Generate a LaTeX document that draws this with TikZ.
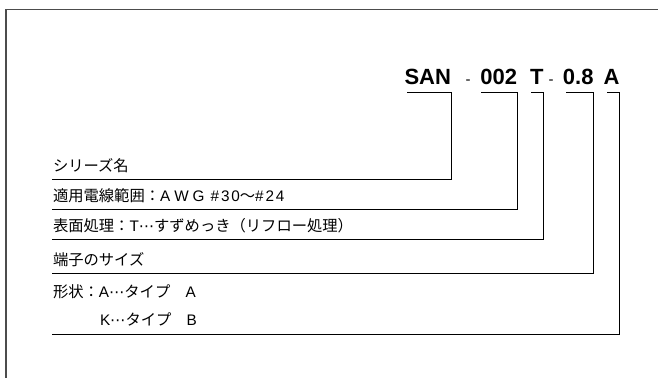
\documentclass[tikz,border=0pt]{standalone}
\usepackage{fontspec}
\newfontfamily\jpfont{Noto Sans CJK JP}
\newfontfamily\partfont{Liberation Sans}
\newfontfamily\latfont[LetterSpace=12]{Liberation Sans}
\newfontfamily\dotfont{DejaVu Sans}
\newcommand{\ltn}[1]{{\latfont #1}}
\newcommand{\mdots}{{\dotfont ⋯}}
\usepackage{tikz}
\usetikzlibrary{positioning}
\tikzset{
% part number and label styles
part/.style={inner sep=0, outer sep=0, anchor=base east,
  font=\partfont\bfseries\fontsize{22}{22}\selectfont},
sep/.style={inner sep=0, outer sep=0, anchor=base,
  font=\partfont\fontsize{15}{15}\selectfont},
lbl/.style={inner sep=0, outer sep=0, anchor=base west,
  font=\jpfont\fontsize{15.3}{15.3}\selectfont},
leader/.style={draw=black, line width=0.9pt},
frame/.style={draw=black!70, line width=1.2pt}
}

\begin{document}
\begin{tikzpicture}[x=1pt, y=-1pt]
  \useasboundingbox (0,0) rectangle (658,378);
  \draw[frame] (658,9.5) -- (6,9.5) -- (6,378);

  \node[part] (SAN) at (451,84) {SAN};
  \node[sep] (dash1) at (468,84) {-};
  \node[part] (num) at (517,84) {002};
  \node[part] (finish) at (543.5,84) {T};
  \node[sep] (dash2) at (551,84) {-};
  \node[part] (size) at (593.5,84) {0.8};
  \node[part] (shape) at (619.5,84) {A};

  \node[lbl] (series) at (53,171) {シリーズ名};
  \node[lbl] (wire) at (53,201) {適用電線範囲：\ltn{A\kern4pt W\kern4pt G \#30}～\ltn{\#24}};
  \node[lbl] (plating) at (53,231) {表面処理：\ltn{T}\mdots すずめっき（リフロー処理）};
  \node[lbl] (tsize) at (53,265) {端子のサイズ};
  \node[lbl] (typeA) at (53,297) {形状：\ltn{A}\mdots タイプ　\ltn{A}};
  \node[lbl] (typeB) at (100,325) {\ltn{K}\mdots タイプ　\ltn{B}};

  \coordinate (l1) at (52,179);
  \coordinate (l2) at (52,209);
  \coordinate (l3) at (52,239);
  \coordinate (l4) at (52,273);
  \coordinate (l5) at (52,334);

  \draw[leader] (l1) -| ([yshift=-8pt]SAN.base east) -- ([yshift=-8pt, xshift=2pt]SAN.base west);
  \draw[leader] (l2) -| ([yshift=-8pt]num.base east) -- ([yshift=-8pt, xshift=1pt]num.base west);
  \draw[leader] (l3) -| ([yshift=-8pt]finish.base east) -- ([yshift=-8pt, xshift=1pt]finish.base west);
  \draw[leader] (l4) -| ([yshift=-8pt]size.base east) -- ([yshift=-8pt, xshift=3pt]size.base west);
  \draw[leader] (l5) -| ([yshift=-8pt]shape.base east) -- ([yshift=-8pt, xshift=3pt]shape.base west);
\end{tikzpicture}
\end{document}
